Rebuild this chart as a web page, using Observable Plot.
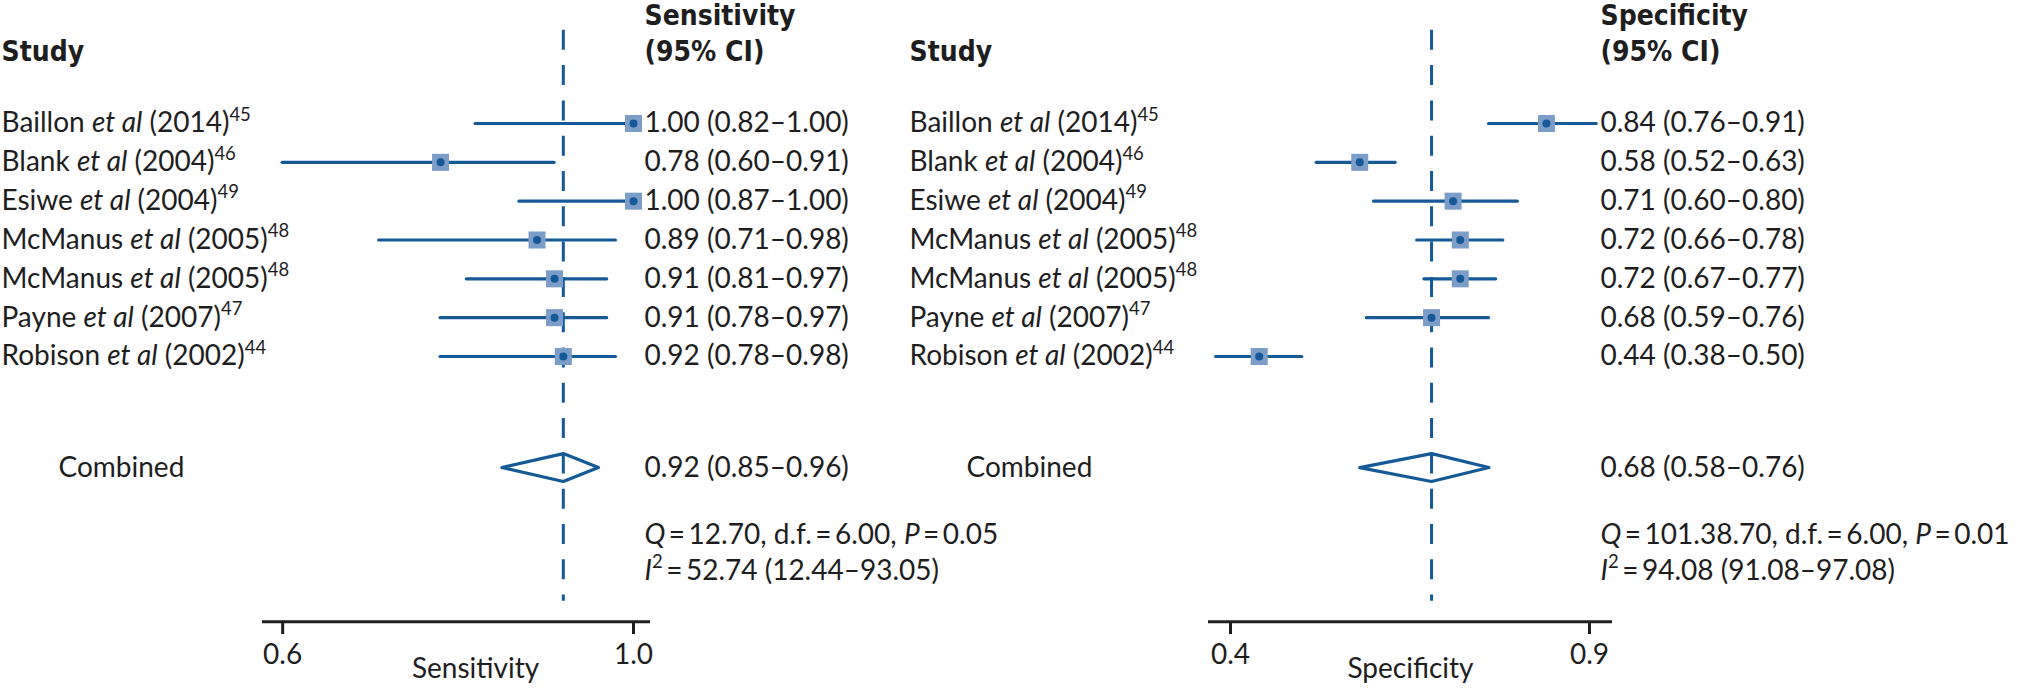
<!DOCTYPE html>
<html><head><meta charset="utf-8">
<script src="https://cdn.jsdelivr.net/npm/d3@7"></script>
<script src="https://cdn.jsdelivr.net/npm/@observablehq/plot@0.6"></script>
<style>
html,body{margin:0;padding:0;background:#fff;}
#chart{position:relative;width:2028px;height:689px;overflow:hidden;}
#chart svg{position:absolute;top:0;overflow:visible;}
</style></head><body><div id="chart"></div>
<script>
// ---- data ----
const authors = ["Baillon","Blank","Esiwe","McManus","McManus","Payne","Robison"];
const years   = [2014,2004,2004,2005,2005,2007,2002];
const refs    = [45,46,49,48,48,47,44];
const sensEst = [1.00,0.78,1.00,0.89,0.91,0.91,0.92];
const sensLo  = [0.82,0.60,0.87,0.71,0.81,0.78,0.78];
const sensHi  = [1.00,0.91,1.00,0.98,0.97,0.97,0.98];
const specEst = [0.84,0.58,0.71,0.72,0.72,0.68,0.44];
const specLo  = [0.76,0.52,0.60,0.66,0.67,0.59,0.38];
const specHi  = [0.91,0.63,0.80,0.78,0.77,0.76,0.50];
const sensPooled = [0.92,0.85,0.96];
const specPooled = [0.68,0.58,0.76];
const sensHet = ["12.70","6.00","0.05"];      // Q, d.f., P
const specHet = ["101.38.70","6.00","0.01"];
const sensI2 = ["52.74","12.44","93.05"];
const specI2 = ["94.08","91.08","97.08"];
const sensTicks = [0.6, 1.0];
const specTicks = [0.4, 0.9];
const sensAxisExtent = [0.577, 1.0194];
const specAxisExtent = [0.3694, 0.932];

// ---- style / layout ----
const DARK = "#155a97", SQ = "#7b9dc8", INK = "#1e1e1e";
const FONT = "Lato, 'Open Sans', sans-serif";
const HFONT = "'Liberation Sans Narrow', 'DejaVu Sans Condensed', 'Roboto', sans-serif";
const FS = 28, HFS = 28;
// row units: study rows are 0..6
const R = {h1:-2.76, h2:-1.85, comb:8.86, q:10.61, i2:11.53, dashTop:-2.4, dashBot:12.3,
           axis:12.83, tickEnd:13.16, tickLab:13.7, axisLab:14.05, dHalf:0.36};
const fmt = d3.format(".2f");
const TH = "\u2009=\u2009";

function panel(o){
  const rows = authors.map((a,i)=>({i, est:o.est[i], lo:o.lo[i], hi:o.hi[i],
    label:`${a} §et al§ (${years[i]})^${refs[i]}^`,
    ci:`${fmt(o.est[i])} (${fmt(o.lo[i])}–${fmt(o.hi[i])})`}));
  const [pe,pl,ph] = o.pooled;
  const diamond = [[pl,R.comb],[pe,R.comb-R.dHalf],[ph,R.comb],[pe,R.comb+R.dHalf],[pl,R.comb]];
  const txt = {fontSize:FS, fill:INK, fontFamily:FONT, frameAnchor:"left", textAnchor:"start"};
  const hd = {fontSize:HFS, fill:INK, fontFamily:HFONT, fontWeight:"bold", frameAnchor:"left", textAnchor:"start"};
  return Plot.plot({
    width:o.width, height:689, margin:0,
    x:{domain:o.extent, range:o.xRange},
    y:{domain:[0,6], range:[123,356]},
    axis:null,
    marks:[
      Plot.ruleX([pe],{y1:R.dashTop, y2:R.dashBot, stroke:DARK, strokeWidth:3, strokeDasharray:"20,15.3"}),
      Plot.ruleY(rows,{y:"i", x1:"lo", x2:"hi", stroke:DARK, strokeWidth:3.2, strokeLinecap:"round"}),
      Plot.dot(rows,{x:"est", y:"i", symbol:"square", r:9.6, fill:SQ, stroke:"none"}),
      Plot.dot(rows,{x:"est", y:"i", r:4, fill:DARK, stroke:"none"}),
      Plot.line(diamond,{x:"0", y:"1", stroke:DARK, strokeWidth:3.2, strokeLinejoin:"round"}),
      Plot.ruleY([R.axis],{x1:o.extent[0], x2:o.extent[1], stroke:INK, strokeWidth:3}),
      Plot.ruleX(o.ticks,{x:d=>d, y1:R.axis, y2:R.tickEnd, stroke:INK, strokeWidth:3}),
      Plot.text(o.ticks,{x:d=>d, y:R.tickLab, text:d=>d.toFixed(1), fontSize:FS, fill:INK, fontFamily:FONT}),
      Plot.text([o.axisTitle],{x:(o.extent[0]+o.extent[1])/2, y:R.axisLab, text:d=>d, dx:o.axisDx, fontSize:FS, fill:INK, fontFamily:FONT}),
      Plot.text(rows,{y:"i", text:"label", dx:o.studyX, ...txt}),
      Plot.text(rows,{y:"i", text:"ci", dx:o.ciX, ...txt}),
      Plot.text(["Study"],{y:R.h2, text:d=>d, dx:o.studyX, ...hd}),
      Plot.text([o.title],{y:R.h1, text:d=>d, dx:o.ciX, ...hd}),
      Plot.text(["(95% CI)"],{y:R.h2, text:d=>d, dx:o.ciX, ...hd}),
      Plot.text(["Combined"],{y:R.comb, text:d=>d, dx:o.combX, ...txt}),
      Plot.text([`${fmt(pe)} (${fmt(pl)}–${fmt(ph)})`],{y:R.comb, text:d=>d, dx:o.ciX, ...txt}),
      Plot.text([`§Q§${TH}${o.het[0]}, d.f.${TH}${o.het[1]}, §P§${TH}${o.het[2]}`],{y:R.q, text:d=>d, dx:o.ciX, ...txt}),
      Plot.text([`§I§^2^${TH}${o.i2[0]} (${o.i2[1]}–${o.i2[2]})`],{y:R.i2, text:d=>d, dx:o.ciX, ...txt})
    ]
  });
}

function richify(svg, fs){
  const ns="http://www.w3.org/2000/svg";
  svg.querySelectorAll("text").forEach(t=>{
    const s=t.textContent;
    if(!/[§^]/.test(s)) return;
    while(t.firstChild) t.removeChild(t.firstChild);
    let italic=false, sup=false, buf="", pend=0;
    const flush=()=>{
      if(!buf) return;
      const ts=document.createElementNS(ns,"tspan");
      ts.textContent=buf;
      if(italic) ts.setAttribute("font-style","italic");
      if(sup){ ts.setAttribute("font-size", fs*0.66); ts.setAttribute("dy", -fs*0.42); pend=fs*0.42; }
      else if(pend){ ts.setAttribute("dy", pend); pend=0; }
      t.appendChild(ts); buf="";
    };
    for(const ch of s){
      if(ch==="§"){flush(); italic=!italic;}
      else if(ch==="^"){flush(); sup=!sup;}
      else buf+=ch;
    }
    flush();
  });
}

const chart = document.getElementById("chart");
const left = panel({width:900, est:sensEst, lo:sensLo, hi:sensHi, pooled:sensPooled, het:sensHet, i2:sensI2,
  extent:sensAxisExtent, xRange:[262,650], ticks:sensTicks, title:"Sensitivity", axisTitle:"Sensitivity",
  axisDx:19, studyX:1, ciX:644, combX:58});
left.style.left="0px";
const right = panel({width:1128, est:specEst, lo:specLo, hi:specHi, pooled:specPooled, het:specHet, i2:specI2,
  extent:specAxisExtent, xRange:[308,712], ticks:specTicks, title:"Specificity", axisTitle:"Specificity",
  axisDx:0, studyX:9, ciX:700, combX:66});
right.style.left="900px";
chart.appendChild(left); chart.appendChild(right);
richify(left, FS); richify(right, FS);
</script></body></html>
